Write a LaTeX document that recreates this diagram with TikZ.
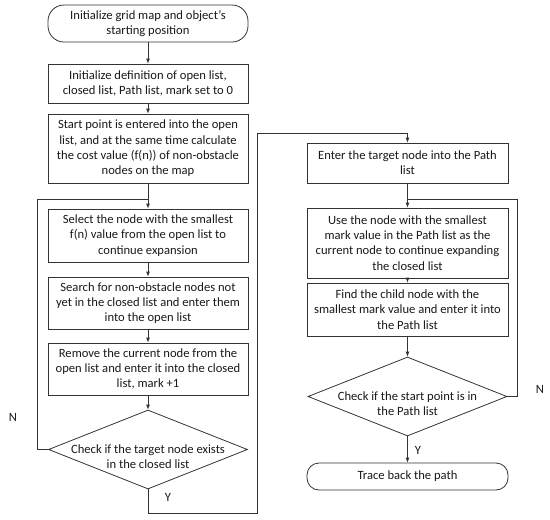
\documentclass[tikz,border=0pt]{standalone}
\usepackage{fontspec}
\setmainfont{Carlito}
\usetikzlibrary{shapes.geometric,arrows.meta}
\begin{document}
\begin{tikzpicture}[x=1pt,y=-1pt,
  every node/.style={font=\fontsize{12.6}{15.3}\selectfont, text=black!90},
  line/.style={draw=black!80, line width=0.8pt},
  arr/.style={line, -{Latex[length=5pt,width=4pt]}},
  procbox/.style={draw=black!80, line width=0.8pt, rectangle, minimum width=200pt, align=center, inner sep=0pt},
  termbox/.style={procbox, rounded corners=16pt},
  decision/.style={draw=black!80, line width=0.8pt, diamond, minimum width=199pt, minimum height=79pt, inner sep=0pt},
  dtext/.style={align=center, yshift=-7.5pt},
  lbl/.style={font=\fontsize{12.6}{14}\selectfont}
]
\useasboundingbox (0,0) rectangle (550,520);
% left column
\node[termbox, minimum height=37pt] (t1) at (148,23.5) {Initialize grid map and object's\\starting position};
\node[procbox, minimum height=39pt] (b2) at (148,83.5) {Initialize definition of open list,\\closed list, Path list, mark set to 0};
\node[procbox, minimum height=69pt] (b3) at (148,148.5) {Start point is entered into the open\\list, and at the same time calculate\\the cost value (f(n)) of non-obstacle\\nodes on the map};
\node[procbox, minimum height=53pt] (b4) at (148,235.5) {Select the node with the smallest\\f(n) value from the open list to\\continue expansion};
\node[procbox, minimum height=52pt] (b5) at (148,303) {Search for non-obstacle nodes not\\yet in the closed list and enter them\\into the open list};
\node[procbox, minimum height=52pt] (b6) at (148,369) {Remove the current node from the\\open list and enter it into the closed\\list, mark +1};
\node[decision, label={[dtext]center:Check if the target node exists\\in the closed list}] (d1) at (148,449.5) {};
% right column
\node[procbox, minimum width=201pt, minimum height=40pt] (r1) at (407.5,163) {Enter the target node into the Path\\list};
\node[procbox, minimum width=201pt, minimum height=70pt] (r2) at (407.5,243) {Use the node with the smallest\\mark value in the Path list as the\\current node to continue expanding\\the closed list};
\node[procbox, minimum width=201pt, minimum height=53pt] (r3) at (407.5,309.5) {Find the child node with the\\smallest mark value and enter it into\\the Path list};
\node[decision, label={[dtext]center:Check if the start point is in\\the Path list}] (d2) at (407.5,396.5) {};
\node[termbox, rounded corners=12pt, minimum width=201pt, minimum height=27pt] (t2) at (407.5,476.5) {Trace back the path};
% join points
\coordinate (j1) at (148,199);
\coordinate (j2) at (407.5,199);
% connectors
\draw[arr] (t1) -- (b2);
\draw[arr] (b2) -- (b3);
\draw[arr] (b3) -- (b4);
\draw[arr] (b4) -- (b5);
\draw[arr] (b5) -- (b6);
\draw[arr] (b6) -- (d1);
\draw[line] (d1.west) -- (37,449.5) |- (j1);
\draw[arr] (d1.south) -- (148,513) -| (257,133) -| (r1.north);
\draw[arr] (r1) -- (r2);
\draw[arr] (r2) -- (r3);
\draw[arr] (r3) -- (d2);
\draw[arr] (d2) -- (t2);
\draw[line] (d2.east) -- (517,396.5) |- (j2);
% labels
\node[lbl] (n1) at (13,417) {N};
\node[lbl] (y1) at (168,497) {Y};
\node[lbl] (n2) at (540,389) {N};
\node[lbl] (y2) at (418,450) {Y};
\end{tikzpicture}
\end{document}
